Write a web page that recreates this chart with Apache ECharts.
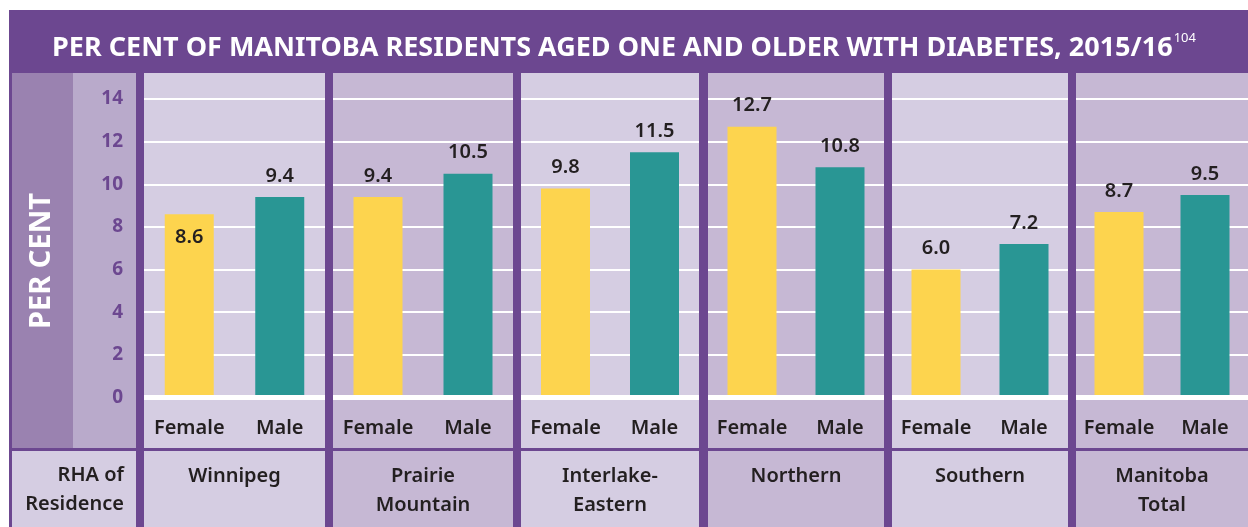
<!DOCTYPE html>
<html>
<head>
<meta charset="utf-8">
<script src="https://cdn.jsdelivr.net/npm/echarts@6/dist/echarts.min.js"></script>
<style>
html,body{margin:0;padding:0;background:#ffffff;}
#chart{width:1248px;height:527px;}
</style>
</head>
<body>
<div id="chart"></div>
<script>
// ---- data ----
const regions = ['Winnipeg', 'Prairie\nMountain', 'Interlake-\nEastern', 'Northern', 'Southern', 'Manitoba\nTotal'];
const sexes = ['Female', 'Male'];
const femaleValues = [8.6, 9.4, 9.8, 12.7, 6.0, 8.7];
const maleValues = [9.4, 10.5, 11.5, 10.8, 7.2, 9.5];
const yMin = 0, yMax = 14, yInterval = 2;
const titleText = 'PER CENT OF MANITOBA RESIDENTS AGED ONE AND OLDER WITH DIABETES, 2015/16';
const titleNote = '104';
const yName = 'PER CENT';
const rowName = 'RHA of\nResidence';

// ---- layout / style ----
const FONT = '"Noto Sans", Lato, sans-serif';
const PURPLE = '#6C4790';
const LIGHT = '#D5CDE2';
const DARK = '#C6B8D4';
const YELLOW = '#FDD44E';
const TEAL = '#299694';
const TEXT = '#231F20';
const panelLeft = [144, 333, 521, 708, 892, 1076];
const panelRight = [325, 513, 699, 884, 1068, 1248];
const gridTop = 99, gridHeight = 298.5;
const panelTop = 73, panelBottom = 448, rowTop = 451, rowBottom = 527;

const grids = [], xAxes = [], yAxes = [], series = [];
const graphics = [
  {type: 'rect', z: -10, shape: {x: 9, y: 10, width: 1239, height: 517}, style: {fill: PURPLE}},
  {type: 'rect', z: -9, shape: {x: 12, y: panelTop, width: 61, height: panelBottom - panelTop}, style: {fill: '#9A82B0'}},
  {type: 'rect', z: -9, shape: {x: 73, y: panelTop, width: 63, height: panelBottom - panelTop}, style: {fill: '#B9AACB'}},
  {type: 'rect', z: -9, shape: {x: 12, y: rowTop, width: 124, height: rowBottom - rowTop}, style: {fill: LIGHT}},
  {type: 'text', z: -5, x: 42, y: 261, rotation: Math.PI / 2,
    style: {text: yName, fill: '#ffffff', font: 'bold 29px ' + FONT, textAlign: 'center', textVerticalAlign: 'middle'}},
  {type: 'text', z: -5, x: 124, y: 490,
    style: {text: rowName, fill: TEXT, font: '600 20px ' + FONT, lineHeight: 29, textAlign: 'right', textVerticalAlign: 'middle'}}
];

regions.forEach((r, i) => {
  const L = panelLeft[i], W = panelRight[i] - panelLeft[i];
  const bg = i % 2 === 0 ? LIGHT : DARK;
  graphics.push({type: 'rect', z: -9, shape: {x: L, y: panelTop, width: W, height: panelBottom - panelTop}, style: {fill: bg}});
  graphics.push({type: 'rect', z: -9, shape: {x: L, y: rowTop, width: W, height: rowBottom - rowTop}, style: {fill: bg}});
  grids.push({left: L, width: W, top: gridTop, height: gridHeight, containLabel: false});
  xAxes.push({
    gridIndex: i, type: 'category', data: sexes, z: 3,
    axisLine: {show: true, lineStyle: {color: '#ffffff', width: 5, cap: 'butt'}},
    axisTick: {show: false},
    axisLabel: {interval: 0, hideOverlap: false, color: TEXT, fontSize: 20, fontWeight: 600, fontFamily: FONT, margin: 19, lineHeight: 24}
  });
  xAxes.push({
    gridIndex: i, type: 'category', data: [r], position: 'bottom', offset: 56,
    axisLine: {show: false}, axisTick: {show: false},
    axisLabel: {interval: 0, color: TEXT, fontSize: 20, fontWeight: 600, fontFamily: FONT, margin: 8, lineHeight: 29}
  });
  yAxes.push({
    gridIndex: i, type: 'value', min: yMin, max: yMax, interval: yInterval,
    axisLine: {show: false}, axisTick: {show: false},
    splitLine: {show: true, lineStyle: {color: '#ffffff', width: 2}},
    axisLabel: {show: i === 0, color: PURPLE, fontSize: 19, fontWeight: 'bold', fontFamily: FONT, margin: 21}
  });
  series.push({
    type: 'bar', xAxisIndex: 2 * i, yAxisIndex: i, barWidth: 49,
    label: {show: true, position: 'top', distance: 11, color: TEXT, fontSize: 20, fontWeight: 600, fontFamily: FONT,
      formatter: p => p.value.toFixed(1)},
    data: [
      {value: femaleValues[i], itemStyle: {color: YELLOW},
        label: i === 0 ? {position: 'insideTop', distance: 13} : undefined},
      {value: maleValues[i], itemStyle: {color: TEAL}}
    ]
  });
});

const chart = echarts.init(document.getElementById('chart'), null, {renderer: 'canvas'});
chart.setOption({
  backgroundColor: '#ffffff',
  animation: false,
  title: {
    left: 'center', top: 27,
    text: '{t|' + titleText + '}{s|' + titleNote + '}',
    textStyle: {
      rich: {
        t: {fontSize: 27, fontWeight: 'bold', color: '#ffffff', fontFamily: FONT, lineHeight: 32},
        s: {fontSize: 13, fontWeight: 'normal', color: '#ffffff', fontFamily: FONT, verticalAlign: 'top', lineHeight: 32, padding: [0, 0, 15, 1]}
      }
    }
  },
  graphic: {elements: graphics},
  grid: grids,
  xAxis: xAxes,
  yAxis: yAxes,
  series: series
});
</script>
</body>
</html>
